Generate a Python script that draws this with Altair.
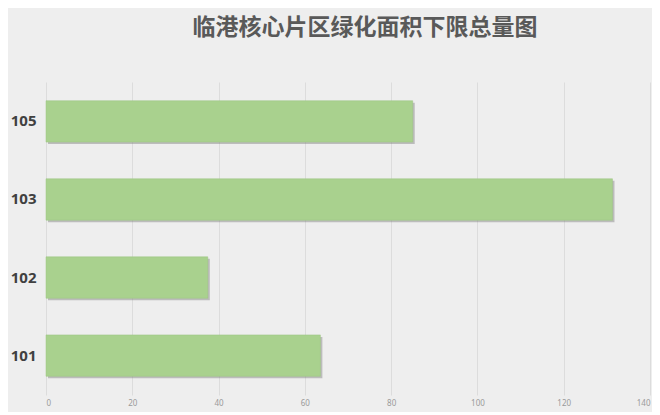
import altair as alt
import pandas as pd

categories = ["105", "103", "102", "101"]
values = [85, 131.3, 37.5, 63.6]

df = pd.DataFrame({"区域": categories, "面积": values})

y_enc = alt.Y("区域:N", sort=categories, title=None,
              scale=alt.Scale(paddingInner=0.47, paddingOuter=0.24),
              axis=alt.Axis(labelFont="Open Sans", labelFontSize=15, labelFontWeight="bold",
                            labelColor="#404040", labelPadding=10, ticks=False, domain=False))
x_enc = alt.X("面积:Q", title=None,
              scale=alt.Scale(domain=[0, 140], nice=False),
              axis=alt.Axis(values=[0, 20, 40, 60, 80, 100, 120, 140], labelFontSize=8,
                            labelColor="#9a9a9a", labelFont="Noto Sans", ticks=False, domain=False,
                            grid=True, gridColor="#dcdcdc", gridWidth=1, labelPadding=4))

shadow = alt.Chart(df).mark_bar(color="#7f7f7f", opacity=0.45, xOffset=2, yOffset=2).encode(x=x_enc, y=y_enc)
bars = alt.Chart(df).mark_bar(color="#a9d18e", stroke="#9cc480", strokeWidth=0.5).encode(x=x_enc, y=y_enc)

chart = (shadow + bars).properties(
    width=604, height=313,
    autosize=alt.AutoSizeParams(type="none"),
    padding={"left": 38, "top": 74, "right": 2, "bottom": 17},
    background="#eeeeee",
    title=alt.TitleParams("临港核心片区绿化面积下限总量图", font="Noto Sans CJK SC", fontSize=23,
                          fontWeight="bold", color="#595959", anchor="middle", dx=17, offset=42),
).configure_view(stroke=None)

chart.save("out.html", embed_options={"renderer": "svg", "actions": False})
